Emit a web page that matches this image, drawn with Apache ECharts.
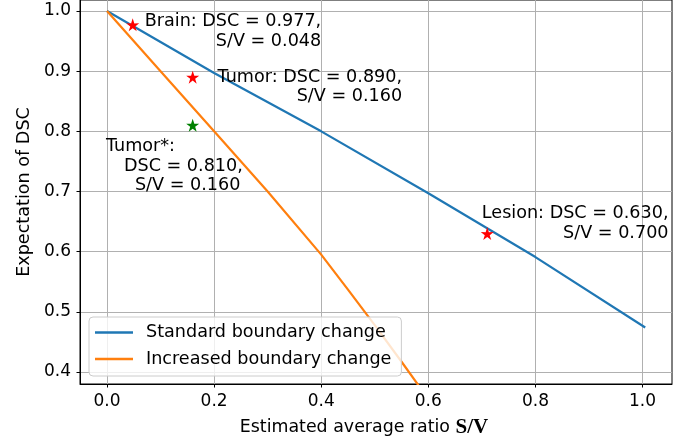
<!DOCTYPE html>
<html>
<head>
<meta charset="utf-8">
<script src="https://cdn.jsdelivr.net/npm/echarts@6/dist/echarts.min.js"></script>
<style>
html,body{margin:0;padding:0;background:#fff;}
#main{width:700px;height:444px;}
</style>
</head>
<body>
<div id="main"></div>
<script>
// tick labels
var xTicks = [0, 0.2, 0.4, 0.6, 0.8, 1.0];
var yTicks = [0.4, 0.5, 0.6, 0.7, 0.8, 0.9, 1.0];

// curves
var standardX = [0, 0.2, 0.4, 0.6, 0.8, 1.005];
var standardY = [1.0, 0.897, 0.800, 0.697, 0.591, 0.474];
var increasedX = [0, 0.1, 0.2, 0.3, 0.4, 0.45, 0.5, 0.55, 0.6];
var increasedY = [1.0, 0.9, 0.8, 0.7, 0.595, 0.537, 0.478, 0.417, 0.355];

// measured structures (stars)
var starNames = ['Brain', 'Tumor', 'Lesion', 'Tumor*'];
var starX = [0.048, 0.16, 0.71, 0.16];
var starY = [0.977, 0.89, 0.63, 0.81];
var starColor = ['#ff0000', '#ff0000', '#ff0000', '#008000'];

// annotation texts
var noteText = [
    'Brain: DSC = 0.977,\nS/V = 0.048',
    'Tumor: DSC = 0.890,\nS/V = 0.160',
    'Lesion: DSC = 0.630,\nS/V = 0.700',
    '{a|Tumor*:}\n{b|DSC = 0.810,}\n{c|S/V = 0.160}'
];
var noteX = [0.400, 0.551, 1.0485, -0.002];
var noteY = [0.966, 0.874, 0.647, 0.742];
var noteAlign = ['right', 'right', 'right', 'left'];

var FONT = 'DejaVu Sans';
var FS = 17.6;
var STAR = 'path://M50,0 L61.8,35.1 L97.6,34.5 L68.1,55.9 L79.4,90.5 L50,69 L20.6,90.5 L31.9,55.9 L2.4,34.5 L38.2,35.1 Z';

function pairs(xs, ys){
    var out = [];
    for (var i = 0; i < xs.length; i++) out.push([xs[i], ys[i]]);
    return out;
}

var chart = echarts.init(document.getElementById('main'), null, {renderer: 'canvas'});

var starData = [];
for (var i = 0; i < starNames.length; i++) {
    starData.push({name: starNames[i], value: [starX[i], starY[i]], itemStyle: {color: starColor[i], opacity: 1}});
}
// 注释文字
var richNote = {
    a: {fontFamily: FONT, fontSize: FS, lineHeight: 19.7, color: '#000'},
    b: {fontFamily: FONT, fontSize: FS, lineHeight: 19.7, color: '#000', padding: [0, 0, 0, 18]},
    c: {fontFamily: FONT, fontSize: FS, lineHeight: 19.7, color: '#000', padding: [0, 0, 0, 29]}
};
var noteData = [];
for (var j = 0; j < noteText.length; j++) {
    noteData.push({
        value: [noteX[j], noteY[j]],
        label: {
            show: true, position: 'inside',
            formatter: noteText[j], align: noteAlign[j], verticalAlign: 'middle',
            fontFamily: FONT, fontSize: FS, lineHeight: 19.7,
            color: '#000000', opacity: 1, textBorderWidth: 0,
            rich: richNote
        }
    });
}

var option = {
    animation: false,
    backgroundColor: '#ffffff',
    textStyle: {fontFamily: FONT, color: '#000'},
    grid: {
        left: 80, right: 28, top: 0, bottom: 60,
        show: true, borderColor: '#000000', borderWidth: 1, backgroundColor: 'transparent'
    },
    legend: {
        orient: 'vertical',
        left: 89, top: 317,
        data: ['Standard boundary change', 'Increased boundary change'],
        icon: 'rect',
        itemWidth: 38, itemHeight: 2.4,
        itemGap: 8.5,
        padding: [6.5, 10, 8, 6],
        backgroundColor: 'rgba(255,255,255,0.8)',
        borderColor: '#cccccc', borderWidth: 1, borderRadius: 4,
        textStyle: {fontFamily: FONT, fontSize: FS, color: '#000', padding: [0, 0, 0, 8]}
    },
    xAxis: {
        type: 'value',
        min: -0.0504, max: 1.055,
        name: '{a|Estimated average ratio }{b|S/V}',
        nameLocation: 'middle',
        nameGap: 33,
        nameTextStyle: {
            padding: [0, 24, 0, 0],
            rich: {
                a: {fontFamily: FONT, fontSize: 17.4, color: '#000'},
                b: {fontFamily: 'Liberation Serif', fontWeight: 'bold', fontSize: 21, color: '#000'}
            }
        },
        axisLine: {show: true, onZero: false, lineStyle: {color: '#000', width: 1}},
        axisTick: {show: true, length: 3.5, lineStyle: {color: '#000', width: 1}, customValues: xTicks},
        axisLabel: {
            customValues: xTicks, margin: 9,
            fontFamily: FONT, fontSize: 17, color: '#000',
            formatter: function(v){ return v.toFixed(1); }
        },
        splitLine: {show: true, lineStyle: {color: '#b0b0b0', width: 1}}
    },
    yAxis: {
        type: 'value',
        min: 0.38, max: 1.0183,
        name: 'Expectation of DSC',
        nameLocation: 'middle',
        nameRotate: 90,
        nameGap: 45,
        nameTextStyle: {fontFamily: FONT, fontSize: 17.6, color: '#000'},
        axisLine: {show: true, onZero: false, lineStyle: {color: '#000', width: 1}},
        axisTick: {show: true, length: 3.5, lineStyle: {color: '#000', width: 1}, customValues: yTicks},
        axisLabel: {
            customValues: yTicks, margin: 9,
            fontFamily: FONT, fontSize: 17, color: '#000',
            formatter: function(v){ return v.toFixed(1); }
        },
        splitLine: {show: true, lineStyle: {color: '#b0b0b0', width: 1}}
    },
    series: [
        {
            name: 'Standard boundary change',
            type: 'line',
            data: pairs(standardX, standardY),
            symbol: 'none',
            color: '#1f77b4',
            lineStyle: {width: 2.2, color: '#1f77b4'},
            z: 3
        },
        {
            name: 'Increased boundary change',
            type: 'line',
            data: pairs(increasedX, increasedY),
            symbol: 'none',
            clip: true,
            color: '#ff7f0e',
            lineStyle: {width: 2.2, color: '#ff7f0e'},
            z: 3
        },
        {
            name: 'stars',
            type: 'scatter',
            data: starData,
            symbol: STAR,
            symbolSize: 13,
            itemStyle: {opacity: 1},
            silent: true,
            z: 4
        },
        {
            name: 'notes',
            type: 'scatter',
            data: noteData,
            symbolSize: 0,
            itemStyle: {color: '#000', opacity: 1},
            silent: true,
            z: 5
        }
    ]
};

chart.setOption(option);
</script>
</body>
</html>
